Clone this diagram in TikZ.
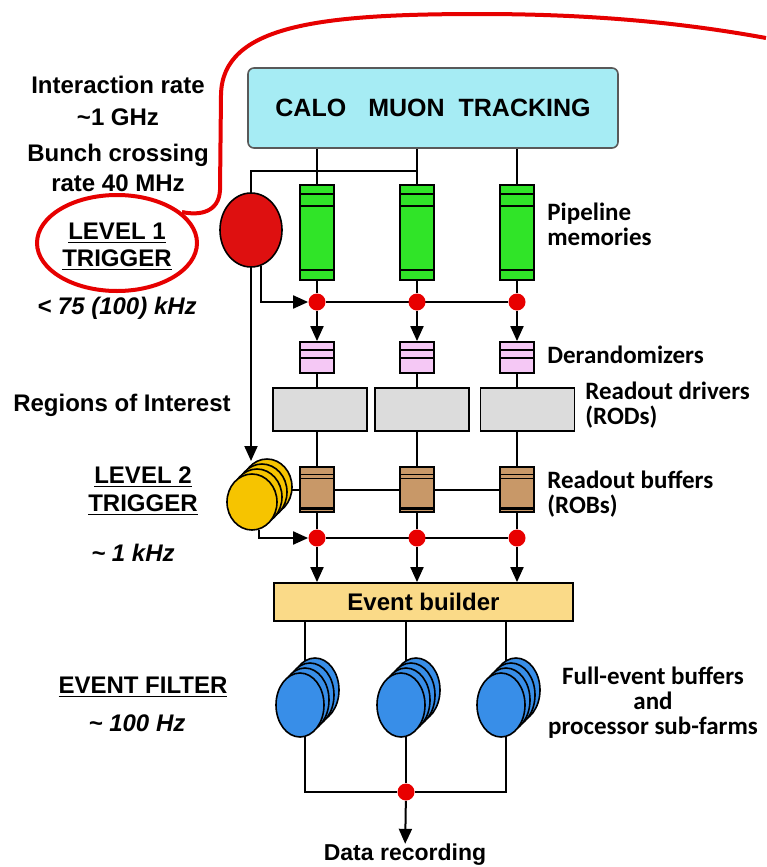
\documentclass[tikz,border=0pt]{standalone}
\usepackage{fontspec}
\setmainfont{Liberation Sans}
\newfontfamily\notefont{Carlito}
\usetikzlibrary{arrows.meta,shapes.geometric,backgrounds}

\definecolor{detcyan}{RGB}{166,236,244}
\definecolor{pipegreen}{RGB}{48,228,40}
\definecolor{dotred}{RGB}{232,0,0}
\definecolor{l1red}{RGB}{222,16,16}
\definecolor{derpink}{RGB}{245,200,245}
\definecolor{rodgray}{RGB}{220,220,220}
\definecolor{robbrown}{RGB}{200,152,104}
\definecolor{l2gold}{RGB}{246,196,0}
\definecolor{evbcol}{RGB}{250,218,136}
\definecolor{efblue}{RGB}{56,142,232}
\definecolor{calred}{RGB}{230,0,0}

\tikzset{
  wire/.style={line width=1pt},
  arr/.style={wire,-{Triangle[length=7.5pt,width=6.5pt]}},
  dot/.style={circle,fill=dotred,inner sep=0pt,minimum size=8.5pt},
  pipe/.style={draw,line width=0.9pt,fill=pipegreen,minimum width=17pt,minimum height=47.5pt,inner sep=0pt},
  derand/.style={draw,line width=0.9pt,fill=derpink,minimum width=17pt,minimum height=15.5pt,inner sep=0pt},
  rod/.style={draw,line width=0.9pt,fill=rodgray,minimum width=47pt,minimum height=21.5pt,inner sep=0pt},
  rob/.style={draw,line width=0.9pt,fill=robbrown,minimum width=17pt,minimum height=22.5pt,inner sep=0pt},
  disk/.style={ellipse,draw,line width=0.8pt,inner sep=0pt},
  lbl/.style={font=\fontsize{12}{15}\selectfont\bfseries,align=center,inner sep=0pt},
  rate/.style={lbl,font=\fontsize{12}{15}\selectfont\bfseries\itshape},
  note/.style={font=\notefont\fontsize{12.5}{12.5}\selectfont\bfseries,align=left,inner sep=0pt,anchor=west},
  callout/.style={draw=calred,line width=2pt},
}

\begin{document}
\begin{tikzpicture}[x=0.5pt,y=-0.5pt]
\useasboundingbox (0,0) rectangle (766,867);

% detector
\node[draw=black!65,fill=detcyan,rounded corners=3pt,line width=0.8pt,minimum width=185pt,minimum height=40pt,font=\fontsize{12.5}{14}\selectfont\bfseries] (det) at (433,108) {CALO\hspace{11pt}MUON\hspace{7pt}TRACKING};

% readout columns
\foreach \i/\x in {1/317,2/417,3/517} {
  \node[pipe] (pipe\i) at (\x,232.5) {};
  \draw[line width=0.8pt] ([yshift=-5pt]pipe\i.north west) -- ([yshift=-5pt]pipe\i.north east);
  \draw[line width=0.8pt] ([yshift=-11pt]pipe\i.north west) -- ([yshift=-11pt]pipe\i.north east);
  \draw[line width=0.8pt] ([yshift=5.5pt]pipe\i.south west) -- ([yshift=5.5pt]pipe\i.south east);
  \node[dot] (pa\i) at (\x,302) {};
  \node[derand] (der\i) at (\x,357.5) {};
  \draw[line width=0.8pt] ([yshift=-4.5pt]der\i.north west) -- ([yshift=-4.5pt]der\i.north east);
  \draw[line width=0.8pt] ([yshift=-8.5pt]der\i.north west) -- ([yshift=-8.5pt]der\i.north east);
  \node[rob] (rob\i) at (\x,489.5) {};
  \draw[line width=0.6pt] ([yshift=-4pt]rob\i.north west) -- ([yshift=-4pt]rob\i.north east);
  \draw[line width=0.6pt] ([yshift=-6pt]rob\i.north west) -- ([yshift=-6pt]rob\i.north east);
  \draw[line width=1.5pt] ([yshift=2pt]rob\i.south west) -- ([yshift=2pt]rob\i.south east);
  \node[dot] (pb\i) at (\x,538) {};
}
\foreach \i/\x in {1/320,2/422,3/527.5}
  \node[rod] (rod\i) at (\x,409.5) {};

% level 1 and level 2 triggers
\node[disk,fill=l1red,minimum width=31pt,minimum height=37pt] (lvl1) at (251,230) {};
\foreach \k in {3,2,1}
  \node[disk,fill=l2gold,minimum width=25pt,minimum height=28pt] (l2b\k) at ({252+5*\k},{502-5*\k}) {};
\node[disk,fill=l2gold,minimum width=25pt,minimum height=28pt] (lvl2) at (252,502) {};
\coordinate (tap) at (0,171);
\coordinate (l2in) at (251,461);

% event builder and filter
\node[draw,line width=0.9pt,fill=evbcol,minimum width=149.5pt,minimum height=19pt,inner sep=0pt,font=\fontsize{12}{14}\selectfont\bfseries] (evb) at (423.5,602) {Event builder};
\foreach \i/\x in {1/300,2/401,3/501} {
  \foreach \k in {3,2,1}
    \node[disk,fill=efblue,minimum width=24pt,minimum height=32pt] at ({\x+5*\k},{705-5*\k}) {};
  \node[disk,fill=efblue,minimum width=24pt,minimum height=32pt] (ef\i) at (\x,705) {};
}
\node[dot] (dr) at (406,792) {};
\node[lbl,font=\fontsize{11.5}{14}\selectfont\bfseries] (rec) at (405,855) {Data recording};

% connections
\begin{scope}[on background layer]
\foreach \i in {1,2,3} {
  \draw[wire] (pipe\i.north |- det.south) -- (pipe\i.north);
  \draw[wire] (pipe\i) -- (pa\i);
  \draw[arr] (pa\i) -- (der\i);
  \draw[wire] (der\i) -- (der\i |- rod\i.north);
  \draw[wire] (rob\i |- rod\i.south) -- (rob\i);
  \draw[wire] (rob\i) -- (pb\i);
  \draw[arr] (pb\i) -- (pb\i |- evb.north);
  \draw[wire] ([xshift=2.5pt]ef\i.north |- evb.south) -- ([xshift=2.5pt]ef\i.south);
}
\draw[wire] (pa1) -- (pa3);
\draw[wire] (pb1) -- (pb3);
\draw[wire] (lvl2.east |- rob1) -- (rob3);
\draw[wire] (lvl1.north) |- (pipe2 |- tap);
\draw[arr] (lvl1.-75) |- (pa1);
\draw[arr] (lvl1.south) -- (l2in);
\draw[arr] (lvl2.-75) |- (pb1);
\draw[wire] ([xshift=2.5pt]ef1.south) |- (dr);
\draw[wire] ([xshift=2.5pt]ef3.south) |- (dr);
\draw[wire] (dr |- ef2.south) -- (dr);
\draw[arr] (dr) -- (rec);
\end{scope}

% left labels
\node[lbl] (irate) at (118,101) {Interaction rate\\[1pt]\textasciitilde1 GHz};
\node[lbl] (bunch) at (118,168) {Bunch crossing\\rate 40 MHz};
\node[lbl] (trig1) at (117,246.5) {\underline{LEVEL 1}\\[-1.5pt]\underline{TRIGGER}};
\node[rate] (rate1) at (117,308) {< 75 (100) kHz};
\node[lbl] (roi) at (122,405) {Regions of Interest};
\node[lbl] (trig2) at (143,491) {\underline{LEVEL 2}\\[-1pt]\underline{TRIGGER}};
\node[rate] (rate2) at (133,553) {\textasciitilde{} 1 kHz};
\node[lbl] (filt) at (143,687) {\underline{EVENT FILTER}};
\node[rate] (rate3) at (137,723) {\textasciitilde{} 100 Hz};

% right labels
\node[note] (pipelbl) at (547,224.5) {Pipeline\\memories};
\node[note] (derlbl) at (547,355) {Derandomizers};
\node[note] (rodlbl) at (585,405) {Readout drivers\\(RODs)};
\node[note] (roblbl) at (547,494.5) {Readout buffers\\(ROBs)};
\node[note,align=center,anchor=center] (eflbl) at (653,703) {Full-event buffers\\and\\processor sub-farms};

% red callout
\draw[callout] (117,243) ellipse (40pt and 24pt);
\draw[callout] (182,212) .. controls (200,216) and (219,212) .. (220,190) -- (221,95)
  .. controls (222,25) and (320,14) .. (480,14) .. controls (610,14) and (700,26) .. (766,38);
\end{tikzpicture}
\end{document}
